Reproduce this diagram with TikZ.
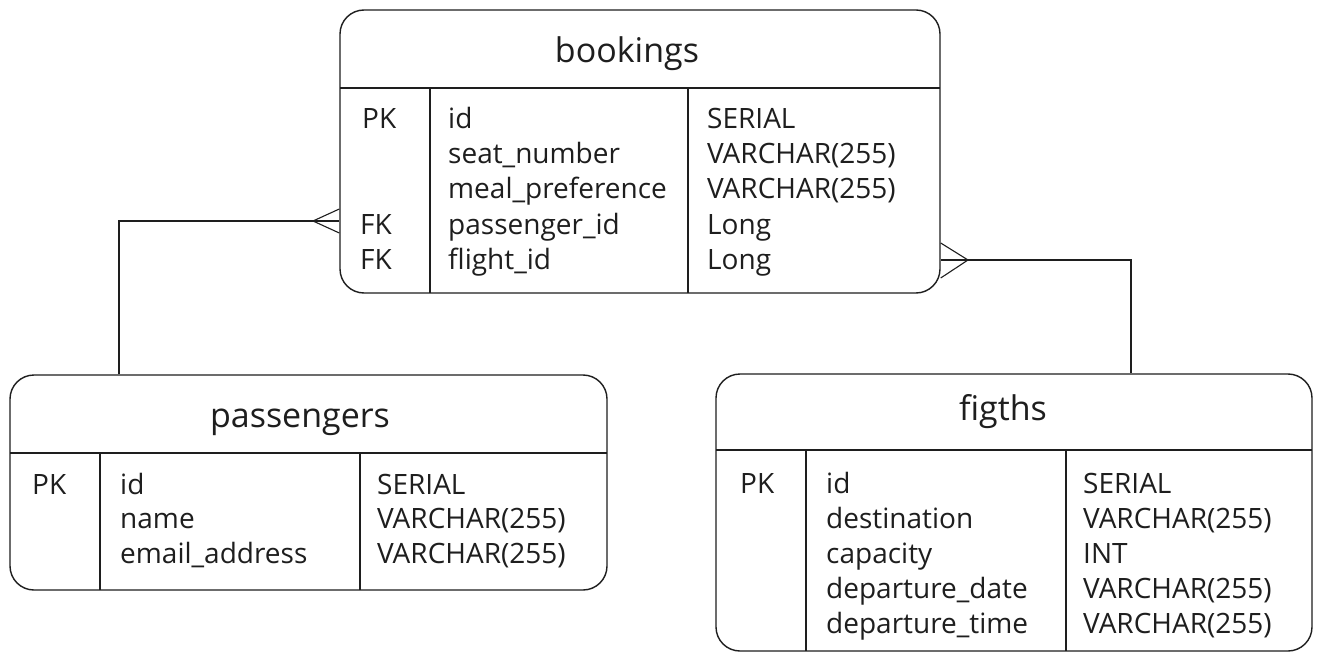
\documentclass[tikz,border=0pt]{standalone}
\usepackage{fontspec}
\setmainfont{Open Sans}
\definecolor{ink}{HTML}{1E1E1E}
\tikzset{
  tbl/.style={draw=ink, line width=1.4pt, rounded corners=24pt, inner sep=0pt},
  sep/.style={draw=ink, line width=1.1pt},
  conn/.style={draw=ink, line width=1.1pt},
  cell/.style={anchor=base west, inner sep=0pt, text=ink, font=\fontsize{28}{32}\selectfont},
  ttl/.style={anchor=base, inner sep=0pt, text=ink, font=\fontsize{34}{38}\selectfont},
}
\begin{document}
\begin{tikzpicture}[x=1pt,y=-1pt]
\useasboundingbox (0,0) rectangle (1322,663);
\fill[white] (0,0) rectangle (1322,663);

% ---------- bookings ----------
\node[tbl, minimum width=600pt, minimum height=283pt] (bookings) at (640,151.5) {};
\draw[sep] (340,88) -- (940,88);
\draw[sep] (430,88) -- (430,293);
\draw[sep] (688,88) -- (688,293);
\node[ttl] (bt) at (627,63) {bookings};
\node[cell] (b1k) at (362,129) {PK};
\node[cell] (b1n) at (448,129) {id};
\node[cell] (b1t) at (707,129) {SERIAL};
\node[cell] (b2n) at (448,164) {seat\_number};
\node[cell] (b2t) at (707,164) {VARCHAR(255)};
\node[cell] (b3n) at (448,199) {meal\_preference};
\node[cell] (b3t) at (707,199) {VARCHAR(255)};
\node[cell] (b4k) at (360,234) {FK};
\node[cell] (b4n) at (448,234) {passenger\_id};
\node[cell] (b4t) at (707,234) {Long};
\node[cell] (b5k) at (360,269) {FK};
\node[cell] (b5n) at (448,269) {flight\_id};
\node[cell] (b5t) at (707,269) {Long};

% ---------- passengers ----------
\node[tbl, minimum width=597pt, minimum height=215pt] (passengers) at (308.5,482.5) {};
\draw[sep] (10,453) -- (607,453);
\draw[sep] (100,453) -- (100,590);
\draw[sep] (360,453) -- (360,590);
\node[ttl] (pt) at (300,427) {passengers};
\node[cell] (p1k) at (32,494) {PK};
\node[cell] (p1n) at (120,494) {id};
\node[cell] (p1t) at (377,494) {SERIAL};
\node[cell] (p2n) at (120,528) {name};
\node[cell] (p2t) at (377,528) {VARCHAR(255)};
\node[cell] (p3n) at (120,563) {email\_address};
\node[cell] (p3t) at (377,563) {VARCHAR(255)};

% ---------- flights ----------
\node[tbl, minimum width=596pt, minimum height=277pt] (flights) at (1014,512.5) {};
\draw[sep] (716,450) -- (1312,450);
\draw[sep] (806,450) -- (806,651);
\draw[sep] (1066,450) -- (1066,651);
\node[ttl] (ft) at (1003,420) {figths};
\node[cell] (f1k) at (740,493) {PK};
\node[cell] (f1n) at (826,493) {id};
\node[cell] (f1t) at (1083,493) {SERIAL};
\node[cell] (f2n) at (826,528) {destination};
\node[cell] (f2t) at (1083,528) {VARCHAR(255)};
\node[cell] (f3n) at (826,563) {capacity};
\node[cell] (f3t) at (1083,563) {INT};
\node[cell] (f4n) at (826,598) {departure\_date};
\node[cell] (f4t) at (1083,598) {VARCHAR(255)};
\node[cell] (f5n) at (826,633) {departure\_time};
\node[cell] (f5t) at (1083,633) {VARCHAR(255)};

% ---------- connectors ----------
\coordinate (pbend) at (119,221);
\coordinate (ptoe) at (313,221);
\draw[conn] (passengers.north -| pbend) -- (pbend) -- (bookings.west |- pbend);
\draw[conn] (bookings.west |- 0,209) -- (ptoe) -- (bookings.west |- 0,233);

\coordinate (fbend) at (1131,260);
\coordinate (ftoe) at (968,260);
\draw[conn] (flights.north -| fbend) -- (fbend) -- (bookings.east |- fbend);
\draw[conn] (bookings.east |- 0,243) -- (ftoe) -- (bookings.east |- 0,278);
\end{tikzpicture}
\end{document}
